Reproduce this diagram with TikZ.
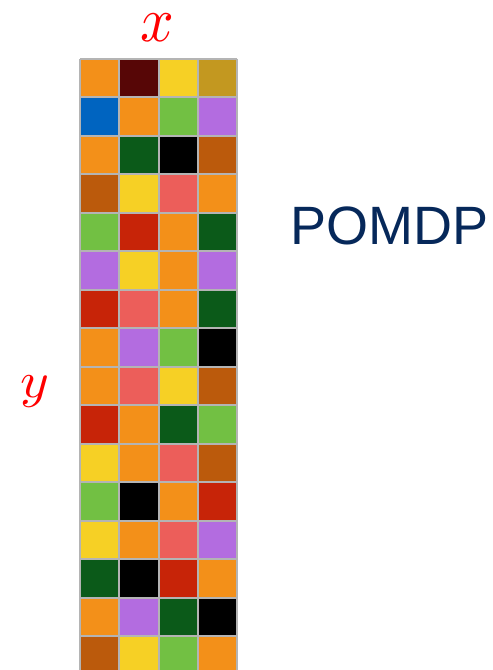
\documentclass[tikz,border=0pt]{standalone}
\usepackage{fontspec}
\usepackage{graphicx}
\newfontfamily\pomdpfont{Liberation Sans}
\definecolor{cO}{HTML}{F39019}
\definecolor{cM}{HTML}{570606}
\definecolor{cY}{HTML}{F6D025}
\definecolor{cG}{HTML}{C39820}
\definecolor{cB}{HTML}{0064C0}
\definecolor{cL}{HTML}{72C043}
\definecolor{cP}{HTML}{B36CE0}
\definecolor{cD}{HTML}{0B5A19}
\definecolor{cK}{HTML}{000000}
\definecolor{cU}{HTML}{BB5A0C}
\definecolor{cS}{HTML}{EC5E5A}
\definecolor{cR}{HTML}{C72408}
\definecolor{gridgray}{HTML}{B4B4B4}
\definecolor{navy}{HTML}{06285A}
\tikzset{axislabel/.style={red,inner sep=0pt}}
\begin{document}
\begin{tikzpicture}[x=1pt,y=-1pt]
\useasboundingbox (0,0) rectangle (493,670);
\clip (0,0) rectangle (493,670);
\def\cw{39.3}
\def\rh{38.5}
\foreach \row [count=\r from 0] in {
 {cO,cM,cY,cG},{cB,cO,cL,cP},{cO,cD,cK,cU},{cU,cY,cS,cO},
 {cL,cR,cO,cD},{cP,cY,cO,cP},{cR,cS,cO,cD},{cO,cP,cL,cK},
 {cO,cS,cY,cU},{cR,cO,cD,cL},{cY,cO,cS,cU},{cL,cK,cO,cR},
 {cY,cO,cS,cP},{cD,cK,cR,cO},{cO,cP,cD,cK},{cU,cY,cL,cO}}{
  \foreach \c [count=\k from 0] in \row {
    \fill[\c] ({80+\k*\cw},{58.5+\r*\rh}) rectangle ++(\cw,\rh);
  }
}
\foreach \k in {0,...,4} \draw[gridgray,line width=2pt] ({80+\k*\cw},58.5) -- ++(0,700);
\foreach \r in {0,...,16} \draw[gridgray,line width=2pt] (80,{58.5+\r*\rh}) -- ++({4*\cw},0);
\node[axislabel] (xl) at (157.5,27.5) {\scalebox{5.9}[6.4]{$x$}};
\node[axislabel] (yl) at (35.3,391.3) {\scalebox{5.5}[5.05]{$y$}};
\node[navy,font=\pomdpfont\fontsize{54}{54}\selectfont,anchor=west,inner sep=0pt] (pm) at (290,226) {POMDP};
\end{tikzpicture}
\end{document}
